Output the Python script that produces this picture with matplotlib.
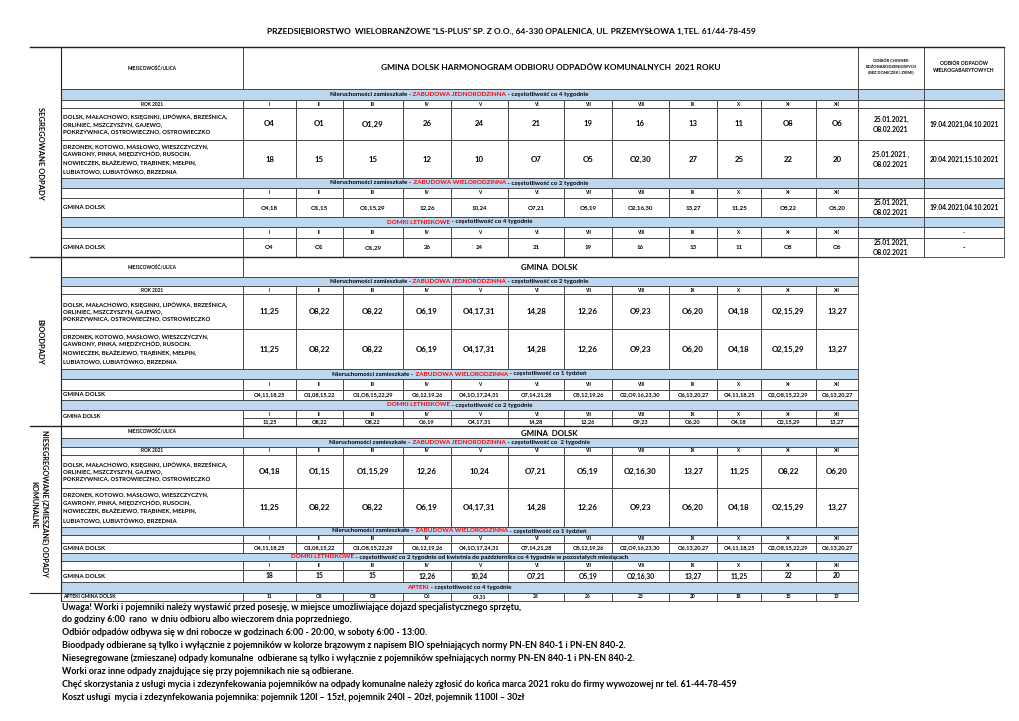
import matplotlib.pyplot as plt
from matplotlib.patches import Rectangle

plt.rcParams['font.family'] = ['Lato', 'DejaVu Sans']

# Dane harmonogramu
miesiace = ['I', 'II', 'III', 'IV', 'V', 'VI', 'VII', 'VIII', 'IX', 'X', 'XI', 'XII']

miejscowosci_a = ('DOLSK, MAŁACHOWO, KSIĘGINKI, LIPÓWKA, BRZEŚNICA,\n'
                  'ORLINIEC, MSZCZYSZYN, GAJEWO,\n'
                  'POKRZYWNICA, OSTROWIECZNO, OSTROWIECZKO')
miejscowosci_b = ('DRZONEK, KOTOWO, MASŁOWO, WIESZCZYCZYN,\n'
                  'GAWRONY, PINKA, MIĘDZYCHÓD, RUSOCIN,\n'
                  'NOWIECZEK, BŁAŻEJEWO, TRĄBINEK, MEŁPIN,\n'
                  'LUBIATOWO, LUBIATÓWKO, BRZEDNIA')

seg_jedn_a = ['O4', 'O1', 'O1,29', '26', '24', '21', '19', '16', '13', '11', 'O8', 'O6']
seg_jedn_b = ['18', '15', '15', '12', '10', 'O7', 'O5', 'O2,30', '27', '25', '22', '20']
seg_wielo = ['O4,18', 'O1,15', 'O1,15,29', '12,26', '10,24', 'O7,21', 'O5,19',
             'O2,16,30', '13,27', '11,25', 'O8,22', 'O6,20']
seg_domki = ['O4', 'O1', 'O1,29', '26', '24', '21', '19', '16', '13', '11', 'O8', 'O6']
choinki_a = '25.01.2021,\nO8.02.2021'
choinki_b = '25.01.2021 ,\nO8.02.2021'
gabaryty_a = '19.04.2021,04.10.2021'
gabaryty_b = '20.04.2021,15.10.2021'

bio_jedn = ['11,25', 'O8,22', 'O8,22', 'O6,19', 'O4,17,31', '14,28', '12,26',
            'O9,23', 'O6,20', 'O4,18', 'O2,15,29', '13,27']
bio_wielo = ['O4,11,18,25', 'O1,08,15,22', 'O1,O8,15,22,29', 'O6,12,19,26',
             'O4,1O,17,24,31', 'O7,14,21,28', 'O5,12,19,26', 'O2,O9,16,23,30',
             'O6,13,20,27', 'O4,11,18,25', 'O2,O8,15,22,29', 'O6,13,20,27']
bio_domki = bio_jedn

zm_jedn_a = seg_wielo
zm_jedn_b = bio_jedn
zm_wielo = bio_wielo
zm_domki = ['18', '15', '15', '12,26', '10,24', 'O7,21', 'O5,19', 'O2,16,30',
            '13,27', '11,25', '22', '20']
apteki = ['11', 'O8', 'O8', 'O6', 'O4,31', '28', '26', '23', '20', '18', '15', '13']

uwagi = [
    'Uwaga! Worki i pojemniki należy wystawić przed posesję, w miejsce umożliwiające dojazd specjalistycznego sprzętu,',
    'do godziny 6:00  rano  w dniu odbioru albo wieczorem dnia poprzedniego.',
    'Odbiór odpadów odbywa się w dni robocze w godzinach 6:00 - 20:00, w soboty 6:00 - 13:00.',
    'Bioodpady odbierane są tylko i wyłącznie z pojemników w kolorze brązowym z napisem BIO spełniających normy PN-EN 840-1 i PN-EN 840-2.',
    'Niesegregowane (zmieszane) odpady komunalne  odbierane są tylko i wyłącznie z pojemników spełniających normy PN-EN 840-1 i PN-EN 840-2.',
    'Worki oraz inne odpady znajdujące się przy pojemnikach nie są odbierane.',
    'Chęć skorzystania z usługi mycia i zdezynfekowania pojemników na odpady komunalne należy zgłosić do końca marca 2021 roku do firmy wywozowej nr tel. 61-44-78-459',
    'Koszt usługi  mycia i zdezynfekowania pojemnika: pojemnik 120l – 15zł, pojemnik 240l – 20zł, pojemnik 1100l – 30zł',
]

# Rysowanie
fig = plt.figure(figsize=(10.2, 7.21), dpi=100)
ax = fig.add_axes([0, 0, 1, 1])
ax.set_xlim(0, 1020)
ax.set_ylim(721, 0)
ax.axis('off')
renderer = fig.canvas.get_renderer()

LEWA = 61
kol = [243, 296, 343, 403, 451, 508, 564, 612, 669, 717, 761, 816, 858]
CH = (858, 924, 1004)
NIEBIESKI = '#bdd7ee'
LINIA = '#3a3a3a'
CZERWONY = '#ff0000'


def komorka(x0, y0, x1, y1, fc='white', lw=0.6):
    ax.add_patch(Rectangle((x0, y0), x1 - x0, y1 - y0, fc=fc, ec=LINIA, lw=lw))


def tekst(x, y, s, size, ha='center', color='black', **kw):
    return ax.text(x, y, s, fontsize=size, ha=ha, va='center', color=color,
                   fontweight='bold', **kw)


def pasek(y0, y1, czesci, size=4.5, dodatkowe=False):
    komorka(LEWA, y0, kol[-1], y1, NIEBIESKI)
    if dodatkowe:
        komorka(CH[0], y0, CH[1], y1, NIEBIESKI)
        komorka(CH[1], y0, CH[2], y1, NIEBIESKI)
    teksty = [tekst(0, (y0 + y1) / 2, s, size, ha='left', color=c) for s, c in czesci]
    szer = [t.get_window_extent(renderer).width for t in teksty]
    x = (LEWA + kol[-1]) / 2 - sum(szer) / 2
    for t, w in zip(teksty, szer):
        t.set_x(x)
        x += w


def wiersz_miesiecy(y0, y1, etykieta='', dodatkowe=None, size=3.4):
    komorka(LEWA, y0, kol[0], y1)
    sr = (y0 + y1) / 2
    tekst((LEWA + kol[0]) / 2, sr, etykieta, size)
    for i, m in enumerate(miesiace):
        komorka(kol[i], y0, kol[i + 1], y1)
        tekst((kol[i] + kol[i + 1]) / 2, sr, m, size)
    if dodatkowe is not None:
        komorka(CH[0], y0, CH[1], y1)
        komorka(CH[1], y0, CH[2], y1)
        tekst((CH[1] + CH[2]) / 2, sr, dodatkowe, 4)


def wiersz(y0, y1, etykieta, wartosci, size, size_et=4.3, dodatkowe=None, etykieta_komorka=True):
    sr = (y0 + y1) / 2
    if etykieta_komorka:
        komorka(LEWA, y0, kol[0], y1)
        tekst(LEWA + 2, sr, etykieta, size_et, ha='left', linespacing=1.5)
    for i, w in enumerate(wartosci):
        komorka(kol[i], y0, kol[i + 1], y1)
        tekst((kol[i] + kol[i + 1]) / 2, sr, w, size)
    if dodatkowe is not None:
        komorka(CH[0], y0, CH[1], y1)
        komorka(CH[1], y0, CH[2], y1)
        tekst((CH[0] + CH[1]) / 2, sr, dodatkowe[0], 4.8, linespacing=1.5)
        tekst((CH[1] + CH[2]) / 2, sr, dodatkowe[1], 4.8)


def jedn(co):
    return [('Nieruchomości zamieszkałe -', 'black'), (' ZABUDOWA JEDNORODZINNA', CZERWONY),
            (' - częstotliwość co ' + co, 'black')]


def wielo(co):
    return [('Nieruchomości zamieszkałe -', 'black'), (' ZABUDOWA WIELORODZINNA', CZERWONY),
            (' - częstotliwość co ' + co, 'black')]


# Nagłówek firmy
tekst(511, 31, 'PRZEDSIĘBIORSTWO  WIELOBRANŻOWE "LS-PLUS" SP. Z O.O., 64-330 OPALENICA, '
      'UL. PRZEMYSŁOWA 1,TEL. 61/44-78-459', 6.0)

# Sekcja 1: segregowane
komorka(LEWA, 47, kol[0], 89)
tekst((LEWA + kol[0]) / 2, 68, 'MIEJSCOWOŚĆ/ULICA', 3.3)
komorka(kol[0], 47, kol[-1], 89)
tekst((kol[0] + kol[-1]) / 2, 68, 'GMINA DOLSK HARMONOGRAM ODBIORU ODPADÓW KOMUNALNYCH  2021 ROKU', 6.0)
komorka(CH[0], 47, CH[1], 89)
tekst((CH[0] + CH[1]) / 2, 67, 'ODBIÓR CHOINEK\nBOŻONARODZENIOWYCH\n(BEZ DONICZEK I ZIEMI)', 2.9, linespacing=1.5)
komorka(CH[1], 47, CH[2], 89)
tekst((CH[1] + CH[2]) / 2, 67, 'ODBIÓR ODPADÓW\nWIELKOGABARYTOWYCH', 3.6, linespacing=1.5)

pasek(89, 100, jedn('4 tygodnie'), dodatkowe=True)
wiersz_miesiecy(100, 108, 'ROK 2021', dodatkowe='')
wiersz(108, 140, miejscowosci_a, seg_jedn_a, 5.6, dodatkowe=(choinki_a, gabaryty_a))
wiersz(140, 178, miejscowosci_b, seg_jedn_b, 5.6, dodatkowe=(choinki_b, gabaryty_b))
pasek(178, 188, wielo('2 tygodnie'), dodatkowe=True)
wiersz_miesiecy(188, 198, '', dodatkowe='')
wiersz(198, 217, 'GMINA DOLSK', seg_wielo, 4.4, dodatkowe=(choinki_a, gabaryty_a))
pasek(217, 227, [('DOMKI LETNISKOWE', CZERWONY), (' - częstotliwość co 4 tygodnie', 'black')], dodatkowe=True)
wiersz_miesiecy(227, 238, '', dodatkowe='-')
wiersz(238, 257, 'GMINA DOLSK', seg_domki, 4.4, dodatkowe=(choinki_a, '-'))

# Sekcja 2: bioodpady
komorka(LEWA, 257, kol[0], 277)
tekst((LEWA + kol[0]) / 2, 267, 'MIEJSCOWOŚĆ/ULICA', 3.3)
komorka(kol[0], 257, kol[-1], 277)
tekst(521, 267, 'GMINA  DOLSK', 5.7, ha='left')
pasek(277, 286, jedn('2 tygodnie'))
wiersz_miesiecy(286, 294, 'ROK 2021')
wiersz(294, 329, miejscowosci_a, bio_jedn, 5.6)
wiersz(329, 369, miejscowosci_b, bio_jedn, 5.6)
pasek(369, 379, wielo('1 tydzień'))
wiersz_miesiecy(379, 390, '')
wiersz(390, 400, 'GMINA DOLSK', bio_wielo, 4.1)
pasek(400, 410, [('DOMKI LETNISKOWE', CZERWONY), (' - częstotliwość co 2 tygodnie', 'black')])
komorka(LEWA, 410, kol[0], 426)
tekst(LEWA + 2, 417, 'GMINA DOLSK', 3.9, ha='left')
for i, m in enumerate(miesiace):
    komorka(kol[i], 410, kol[i + 1], 418)
    tekst((kol[i] + kol[i + 1]) / 2, 414, m, 3.4)
wiersz(418, 426, '', bio_domki, 4.1, etykieta_komorka=False)

# Sekcja 3: niesegregowane
komorka(LEWA, 426, kol[0], 438)
tekst((LEWA + kol[0]) / 2, 431, 'MIEJSCOWOŚĆ/ULICA', 3.3)
komorka(kol[0], 426, kol[-1], 438)
tekst(521, 433, 'GMINA  DOLSK', 5.7, ha='left')
pasek(438, 447, jedn(' 2 tygodnie'))
wiersz_miesiecy(447, 455, 'ROK 2021')
wiersz(455, 488, miejscowosci_a, zm_jedn_a, 5.6)
wiersz(488, 527, miejscowosci_b, zm_jedn_b, 5.6)
pasek(527, 535, wielo('1 tydzień'))
wiersz_miesiecy(535, 543, '')
wiersz(543, 553, 'GMINA DOLSK', zm_wielo, 4.1)
pasek(553, 561, [('DOMKI LETNISKOWE', CZERWONY),
                 (' - częstotliwość co 2 tygodnie od kwietnia do października co 4 tygodnie w pozostałych miesiącach', 'black')])
wiersz_miesiecy(561, 570, '')
wiersz(570, 582, 'GMINA DOLSK', zm_domki, 4.9)
pasek(582, 593, [('APTEKI', CZERWONY), (' - częstotliwość co 4 tygodnie', 'black')])
wiersz(593, 601, 'APTEKI GMINA DOLSK', apteki, 3.5, size_et=3.6)

# Obramowania i etykiety boczne
ax.plot([30, 1004], [47, 47], color='#222222', lw=1.0)
ax.plot([30, 858], [257, 257], color='#222222', lw=1.0)
ax.plot([30, 858], [426, 426], color='#222222', lw=1.0)
ax.plot([30, 61], [593, 593], color='#222222', lw=0.8)
ax.plot([LEWA, LEWA], [47, 601], color='#222222', lw=0.8)
tekst(40, 153, 'SEGREGOWANE ODPADY', 5.5, rotation=-90)
tekst(40, 342, 'BIOODPADY', 5.5, rotation=-90)
tekst(45, 503, 'NIESEGREGOWANE (ZMIESZANE) ODPADY', 5.2, rotation=-90)
tekst(34, 505, 'KOMUNALNE', 5.2, rotation=-90)

# Uwagi
for i, linia in enumerate(uwagi):
    tekst(62, 607 + i * 12.9, linia, 6.4, ha='left')

plt.savefig('out.png', dpi=100)
